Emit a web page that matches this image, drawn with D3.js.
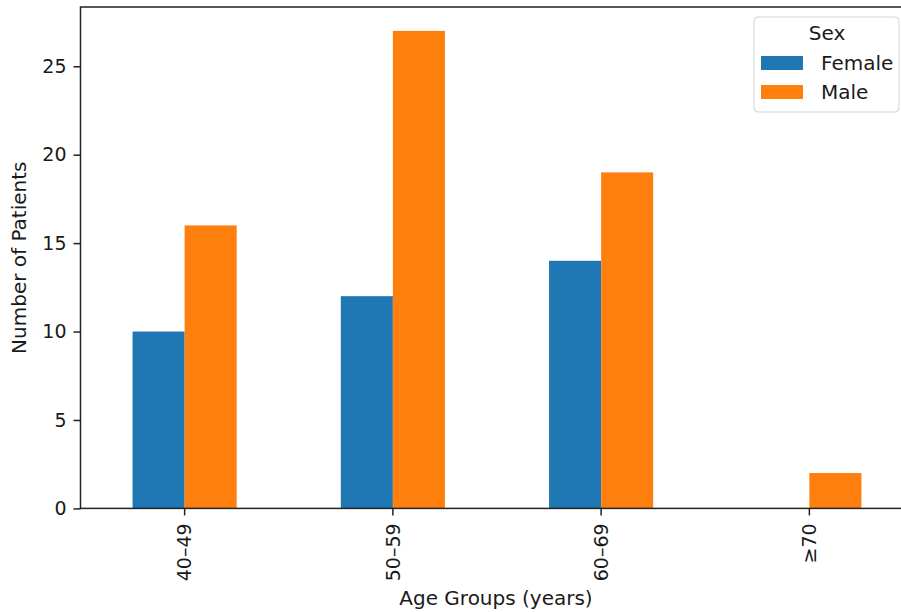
<!DOCTYPE html>
<html>
<head>
<meta charset="utf-8">
<script src="https://cdn.jsdelivr.net/npm/d3@7"></script>
<style>
  html, body { margin: 0; padding: 0; background: #fff; }
  svg { display: block; font-family: "DejaVu Sans", sans-serif; }
</style>
</head>
<body>
<svg id="chart" width="901" height="612"></svg>
<script>
// Patient counts by age group and sex
const ageGroups = ["40–49", "50–59", "60–69", "≥70"];
const sexes = ["Female", "Male"];
const femaleCounts = [10, 12, 14, 0];
const maleCounts = [16, 27, 19, 2];
const yTicks = [0, 5, 10, 15, 20, 25];
const colors = { Female: "#1f77b4", Male: "#ff7f0e" };

const seriesBySex = { Female: femaleCounts, Male: maleCounts };
const rows = ageGroups.map((g, i) => ({
  group: g,
  values: sexes.map(s => ({ sex: s, value: seriesBySex[s][i] }))
}));

const svg = d3.select("#chart");
const plot = { left: 80.5, right: 913.5, top: 7, bottom: 508.4 };
const tickFont = 19;
const labelFont = 20;
const ink = "#1a1a1a";

const x = d3.scaleBand().domain(ageGroups).range([plot.left, plot.right]).paddingInner(0).paddingOuter(0);
const bw = x.bandwidth();
const xSub = d3.scaleBand().domain(sexes).range([bw / 4, bw * 3 / 4]).padding(0);

const yMax = d3.max(maleCounts.concat(femaleCounts)) * 1.05;
const y = d3.scaleLinear().domain([0, yMax]).range([plot.bottom, plot.top]);

// Bars
const groupsSel = svg.append("g").selectAll("g")
  .data(rows).join("g")
  .attr("transform", d => `translate(${x(d.group)},0)`);

groupsSel.selectAll("rect")
  .data(d => d.values.filter(v => v.value > 0))
  .join("rect")
  .attr("x", d => xSub(d.sex))
  .attr("width", xSub.bandwidth())
  .attr("y", d => y(d.value))
  .attr("height", d => y(0) - y(d.value))
  .attr("fill", d => colors[d.sex]);

// Frame
svg.append("rect")
  .attr("x", plot.left).attr("y", plot.top)
  .attr("width", plot.right - plot.left)
  .attr("height", plot.bottom - plot.top)
  .attr("fill", "none").attr("stroke", "#222").attr("stroke-width", 1.5);

// Y axis
const yAxis = svg.append("g")
  .attr("transform", `translate(${plot.left},0)`)
  .call(d3.axisLeft(y).tickValues(yTicks).tickSize(7).tickPadding(7).tickFormat(d3.format("d")));
yAxis.select(".domain").remove();
yAxis.selectAll("line").attr("stroke", "#222").attr("stroke-width", 1.5);
yAxis.selectAll("text").attr("font-size", tickFont).attr("fill", ink)
  .attr("font-family", "DejaVu Sans");

// X axis with vertical labels
const xAxis = svg.append("g")
  .attr("transform", `translate(0,${plot.bottom})`)
  .call(d3.axisBottom(x).tickSize(7).tickPadding(7));
xAxis.select(".domain").remove();
xAxis.selectAll("line").attr("stroke", "#222").attr("stroke-width", 1.5);
xAxis.selectAll("text")
  .attr("font-size", tickFont).attr("fill", ink).attr("font-family", "DejaVu Sans")
  .attr("transform", "rotate(-90)")
  .attr("text-anchor", "end")
  .attr("x", -15).attr("y", 0).attr("dy", "0.35em");

// Axis titles
svg.append("text")
  .attr("x", 496).attr("y", 598)
  .attr("text-anchor", "middle").attr("dominant-baseline", "central")
  .attr("font-size", labelFont).attr("fill", ink)
  .text("Age Groups (years)");

svg.append("text")
  .attr("transform", `translate(19,${(plot.top + plot.bottom) / 2}) rotate(-90)`)
  .attr("text-anchor", "middle").attr("dominant-baseline", "central")
  .attr("font-size", labelFont).attr("fill", ink)
  .text("Number of Patients");

// Legend
const legend = svg.append("g");
legend.append("rect")
  .attr("x", 754).attr("y", 17).attr("width", 145).attr("height", 95)
  .attr("rx", 4).attr("fill", "#fff").attr("fill-opacity", 0.8)
  .attr("stroke", "#d3d3d3").attr("stroke-width", 1);
legend.append("text")
  .attr("x", 827).attr("y", 33)
  .attr("text-anchor", "middle").attr("dominant-baseline", "central")
  .attr("font-size", labelFont).attr("fill", ink).text("Sex");

const entries = legend.selectAll("g.entry")
  .data(sexes).join("g").attr("class", "entry")
  .attr("transform", (d, i) => `translate(0,${63 + i * 29})`);
entries.append("rect")
  .attr("x", 761).attr("y", -7).attr("width", 42).attr("height", 14)
  .attr("fill", d => colors[d]);
entries.append("text")
  .attr("x", 821).attr("y", 0).attr("dominant-baseline", "central")
  .attr("font-size", labelFont).attr("fill", ink).text(d => d);
</script>
</body>
</html>
